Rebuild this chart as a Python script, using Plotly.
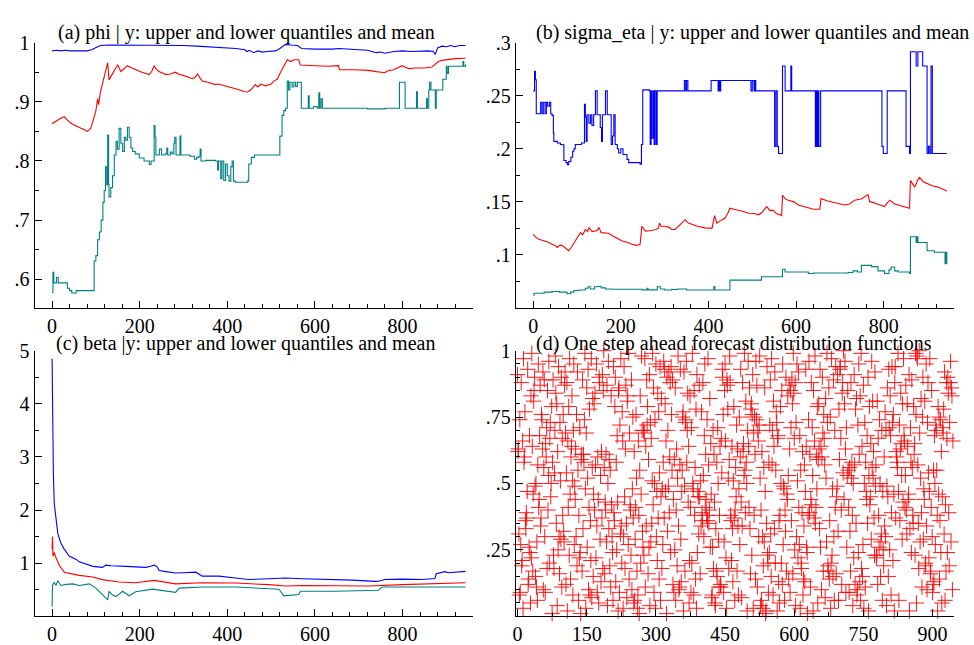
import plotly.graph_objects as go

# ---------------- data ----------------
# (a) phi | y : upper quantile, mean, lower quantile  -> (t, value)
phi_upper = [(0,.986),(10,.987),(20,.986),(30,.987),(40,.986),(50,.986),(60,.986),(70,.987),(80,.986),
             (90,.988),(100,.992),(110,.995),(130,.996),(160,.996),(200,.996),(250,.996),(300,.995),
             (330,.994),(360,.993),(400,.991),(420,.990),(440,.988),(445,.985),(450,.987),(460,.983),
             (470,.986),(480,.984),(490,.985),(500,.985),(510,.986),(520,.990),(533,.997),(545,.996),
             (560,.995),(570,.990),(600,.989),(640,.989),(655,.990),(700,.988),(720,.987),(730,.985),
             (740,.983),(750,.984),(760,.982),(780,.985),(800,.986),(820,.985),(840,.986),(860,.986),
             (870,.985),(875,.980),(880,.991),(890,.994),(900,.993),(910,.995),(920,.993),(930,.995),(944,.995)]
phi_mean = [(0,.863),(8,.866),(15,.870),(22,.873),(28,.875),(35,.869),(45,.863),(55,.859),(62,.857),(70,.854),
            (81,.850),(88,.855),(93,.866),(100,.885),(104,.905),(106,.895),(110,.915),(115,.930),(119,.943),
            (123,.955),(127,.966),(130,.937),(136,.945),(142,.955),(146,.958),(150,.962),(157,.951),(163,.955),
            (172,.961),(180,.958),(191,.954),(205,.950),(222,.946),(228,.952),(233,.961),(238,.955),(244,.951),
            (252,.948),(260,.946),(270,.947),(282,.950),(290,.946),(298,.945),(310,.942),(320,.939),(326,.941),
            (332,.947),(338,.940),(343,.935),(355,.933),(373,.929),(380,.930),(392,.927),(404,.925),(419,.922),
            (430,.919),(440,.917),(446,.9165),(452,.919),(458,.924),(464,.929),(470,.925),(476,.930),(487,.927),
            (500,.930),(506,.935),(514,.938),(521,.949),(530,.962),(537,.971),(545,.968),(552,.971),(563,.971),
            (567,.962),(600,.961),(630,.960),(654,.961),(656,.954),(690,.954),(723,.953),(740,.951),(750,.950),
            (760,.949),(765,.952),(780,.954),(799,.961),(806,.958),(814,.956),(830,.957),(850,.957),(867,.9586),
            (872,.962),(882,.968),(890,.970),(905,.972),(920,.973),(944,.9735)]
phi_lower = [(0,.578),(2,.612),(4,.594),(10,.603),(14,.594),(30,.594),(35,.585),(40,.581),(45,.577),(55,.581),
             (93,.581),(96,.631),(100,.640),(104,.667),(108,.680),(112,.700),(116,.730),(119,.750),(122,.790),
             (125,.760),(127,.844),(129,.760),(130,.739),(134,.755),(138,.775),(142,.810),(146,.833),(149,.820),
             (153,.855),(157,.830),(161,.816),(165,.840),(168,.835),(172,.857),(176,.840),(180,.822),(184,.816),
             (190,.812),(199,.805),(210,.800),(222,.794),(226,.800),(233,.860),(235,.840),(237,.810),(245,.820),
             (250,.810),(258,.812),(262,.822),(264,.810),(270,.815),(274,.812),(278,.830),(280,.840),(283,.810),
             (292,.842),(294,.810),(300,.810),(315,.808),(325,.803),(330,.806),(335,.808),(338,.820),(340,.800),
             (350,.801),(373,.800),(378,.785),(380,.800),(385,.770),(388,.800),(392,.767),(396,.795),(400,.775),
             (404,.766),(408,.790),(411,.800),(414,.766),(419,.764),(446,.766),(449,.795),(455,.806),(462,.810),
             (518,.810),(520,.842),(525,.877),(529,.885),(533,.889),(537,.935),(540,.920),(543,.933),(548,.925),
             (552,.933),(556,.926),(560,.933),(569,.889),(583,.889),(585,.910),(587,.889),(595,.889),(597,.892),
             (605,.889),(609,.915),(611,.889),(614,.905),(617,.889),(700,.889),(720,.888),(760,.889),(793,.933),
             (806,.889),(830,.889),(832,.917),(834,.889),(852,.889),(855,.905),(857,.889),(860,.920),(862,.933),
             (865,.920),(873,.920),(875,.889),(877,.920),(890,.920),(892,.938),(900,.960),(902,.948),(905,.960),
             (935,.960),(938,.968),(940,.960),(944,.963)]

# (b) sigma_eta | y
sigma_upper = [(0,.2545),(3,.273),(5,.265),(7,.233),(17,.2438),(20,.233),(23,.2438),(27,.233),(30,.2438),
               (33,.240),(37,.2438),(40,.233),(43,.2315),(46,.215),(47,.207),(55,.2054),(62,.204),(66,.2038),
               (70,.189),(75,.187),(78,.185),(81,.188),(86,.192),(90,.1977),(93,.200),(96,.204),(110,.2054),
               (115,.2054),(117,.242),(119,.230),(121,.207),(123,.232),(127,.224),(131,.232),(134,.222),
               (138,.232),(142,.2545),(146,.232),(153,.220),(156,.207),(158,.232),(165,.2545),(169,.232),
               (178,.204),(181,.212),(184,.232),(187,.204),(192,.200),(195,.196),(200,.200),(205,.1946),
               (214,.190),(218,.187),(244,.1854),(247,.204),(250,.2555),(265,.2545),(267,.204),(269,.2545),
               (271,.210),(274,.2545),(276,.204),(278,.2545),(281,.204),(283,.2545),(345,.2643),(348,.2545),
               (350,.2643),(353,.2545),(404,.2545),(406,.2643),(420,.2643),(422,.2545),(424,.2643),(426,.2545),
               (428,.2643),(495,.2643),(497,.2545),(500,.2643),(504,.2545),(506,.2643),(508,.2545),(549,.2545),
               (551,.2023),(554,.2545),(557,.2023),(560,.1955),(567,.1955),(569,.278),(573,.278),(575,.2545),
               (587,.2545),(588,.278),(590,.2545),(643,.2545),(644,.2023),(646,.2545),(648,.2023),(650,.2545),
               (652,.2023),(656,.2545),(795,.2545),(796,.2023),(799,.1955),(808,.2545),(850,.2545),(851,.2023),
               (859,.1955),(861,.2914),(874,.278),(878,.2914),(889,.278),(899,.1955),(902,.2023),(905,.1955),
               (908,.278),(911,.1955),(944,.1955)]
sigma_mean = [(0,.1193),(5,.117),(13,.1147),(20,.114),(28,.1126),(35,.112),(43,.110),(50,.109),(55,.107),
              (60,.109),(66,.109),(72,.107),(81,.104),(87,.107),(93,.1117),(100,.116),(108,.121),(113,.119),
              (119,.124),(124,.122),(127,.1255),(135,.122),(146,.123),(150,.126),(155,.121),(165,.121),
              (172,.1205),(180,.1184),(190,.116),(203,.1132),(215,.112),(225,.110),(237,.109),(244,.110),
              (248,.127),(252,.124),(256,.1224),(270,.123),(280,.124),(286,.1255),(288,.130),(292,.127),
              (301,.127),(310,.126),(316,.124),(324,.124),(335,.128),(347,.1332),(354,.130),(362,.1286),
              (375,.127),(392,.1255),(408,.125),(414,.137),(419,.130),(430,.133),(438,.1347),(445,.140),
              (449,.144),(458,.143),(468,.1424),(480,.141),(491,.1393),(505,.139),(514,.1378),(522,.140),
              (533,.1455),(540,.142),(548,.142),(555,.139),(563,.1378),(567,.137),(569,.1562),(575,.153),
              (582,.1516),(595,.150),(605,.147),(615,.146),(628,.144),(640,.143),(654,.143),(657,.1531),
              (670,.151),(681,.150),(695,.149),(711,.147),(722,.148),(734,.1516),(750,.153),(764,.1568),
              (768,.150),(772,.150),(785,.148),(802,.1455),(808,.149),(814,.1516),(825,.148),(833,.147),
              (845,.146),(859,.144),(861,.170),(867,.166),(871,.1639),(878,.171),(882,.1731),(890,.169),
              (901,.167),(912,.165),(924,.1639),(935,.162),(944,.1602)]
sigma_lower = [(0,.062),(2,.064),(25,.065),(43,.0656),(60,.065),(77,.0634),(85,.065),(93,.0665),(105,.067),
               (119,.0687),(125,.070),(130,.068),(140,.070),(150,.0705),(155,.069),(165,.068),(180,.0677),
               (248,.0671),(260,.0685),(262,.0671),(283,.070),(290,.068),(300,.067),(316,.0675),(330,.068),
               (350,.067),(408,.067),(412,.070),(415,.067),(444,.067),(449,.0763),(521,.0794),(569,.0865),
               (575,.084),(628,.0825),(640,.083),(719,.0835),(730,.085),(740,.084),(749,.0902),(772,.089),
               (787,.085),(802,.0825),(812,.086),(817,.0886),(825,.085),(833,.084),(859,.0825),(861,.1172),
               (874,.1117),(876,.1172),(878,.1117),(899,.104),(916,.1025),(940,.0917),(942,.1025),(944,.0917)]

# (c) beta | y
beta_upper = [(0,4.85),(1,3.65),(3,2.67),(5,2.12),(9,1.81),(13,1.56),(20,1.38),(28,1.26),(39,1.135),(55,1.07),
              (62,1.025),(77,0.98),(93,0.94),(115,0.92),(123,0.963),(135,0.95),(153,0.95),(170,0.94),(191,0.93),
              (214,0.92),(225,0.94),(233,0.963),(240,0.93),(244,0.86),(260,0.84),(282,0.816),(300,0.82),
              (328,0.83),(343,0.755),(381,0.755),(419,0.72),(449,0.693),(495,0.705),(533,0.72),(571,0.705),
              (647,0.69),(685,0.68),(738,0.657),(745,0.66),(760,0.693),(799,0.70),(844,0.693),(874,0.71),
              (877,0.80),(897,0.84),(905,0.82),(920,0.83),(944,0.845)]
beta_mean = [(0,1.26),(1,1.5),(2,1.13),(5,1.2),(9,1.1),(17,0.95),(28,0.83),(47,0.80),(62,0.77),(93,0.74),
             (115,0.69),(153,0.645),(191,0.63),(233,0.675),(282,0.61),(343,0.63),(419,0.625),(495,0.595),
             (533,0.57),(571,0.58),(647,0.58),(723,0.57),(799,0.595),(874,0.61),(944,0.63)]
beta_lower = [(0,0.18),(1,0.58),(5,0.64),(9,0.58),(13,0.67),(20,0.58),(32,0.60),(47,0.61),(62,0.58),(85,0.61),
              (100,0.53),(115,0.41),(127,0.31),(130,0.47),(138,0.40),(146,0.37),(161,0.47),(176,0.385),
              (191,0.46),(229,0.51),(267,0.47),(282,0.45),(290,0.53),(343,0.55),(419,0.55),(495,0.53),
              (518,0.51),(529,0.385),(548,0.40),(563,0.41),(567,0.47),(647,0.47),(745,0.49),(753,0.55),(944,0.55)]

# (d) one step ahead forecast distribution function values (percent), t = 0..944
pit_pct = [
    91,62,63,31,8,74,9,27,88,19,21,66,3,97,58,60,77,36,33,39,37,
    47,93,12,14,26,68,24,5,83,22,99,64,17,46,81,85,90,49,15,50,11,
    28,6,57,95,41,44,68,87,34,37,76,74,63,92,10,56,89,30,9,65,60,
    71,18,85,40,53,96,20,67,73,45,50,79,1,58,89,23,18,54,70,98,84,
    35,80,4,62,25,94,30,16,73,51,29,90,11,67,38,76,32,28,87,92,69,
    12,54,88,2,66,41,79,23,97,46,14,60,64,83,51,8,70,95,27,49,44,
    63,30,76,19,92,55,6,38,22,71,24,1,59,61,17,89,33,61,58,74,99,
    48,3,69,86,26,52,93,10,41,78,8,36,21,97,7,56,82,15,46,80,40,
    84,57,22,95,34,9,60,44,5,90,88,29,53,13,62,37,91,18,85,100,56,
    16,43,40,61,28,87,4,50,96,33,59,19,55,11,83,42,30,24,6,94,39,
    36,79,90,13,58,25,68,43,2,85,86,9,72,31,97,34,20,77,66,3,30,
    94,45,18,63,87,35,7,81,83,27,99,14,69,42,40,23,89,10,48,75,37,
    5,62,6,29,41,76,52,17,3,8,66,38,1,55,83,20,46,98,70,32,26,
    70,23,69,97,11,64,34,89,72,79,16,59,26,91,4,73,28,67,35,51,99,
    42,86,9,50,74,3,95,30,47,21,84,37,77,14,54,94,6,45,82,18,48,
    27,58,96,37,93,80,47,66,1,90,32,70,49,92,39,60,88,24,94,76,55,
    89,12,44,9,59,25,86,6,40,63,19,52,98,34,10,11,57,93,29,13,47,
    55,75,77,2,92,49,17,73,74,96,58,70,84,43,64,5,21,83,41,9,71,
    20,99,50,48,8,85,38,56,14,78,3,91,24,47,45,31,87,45,16,51,34,
    77,39,36,88,53,30,68,95,41,61,44,38,74,36,97,57,35,40,82,26,65,
    46,7,8,26,70,18,61,43,5,4,33,17,58,15,71,50,29,11,38,64,12,
    11,67,54,93,90,76,9,28,85,95,66,22,3,89,87,78,52,18,59,98,88,
    38,36,21,64,33,13,51,79,37,6,40,56,45,72,17,63,34,8,48,75,27,
    60,93,43,7,34,88,62,65,53,99,55,39,81,58,50,2,70,96,64,41,86,
    33,16,78,80,23,76,91,3,69,38,75,61,14,96,74,87,11,70,66,30,72,
    98,52,4,40,6,62,30,3,19,56,28,86,47,1,2,35,94,23,20,9,58,
    24,72,89,31,15,97,57,70,8,81,64,33,92,20,55,77,73,2,67,68,13,
    36,5,38,79,50,20,85,12,95,27,49,48,6,40,32,90,17,46,44,83,53,
    14,87,63,9,85,71,36,89,80,16,99,84,67,25,88,4,73,30,95,51,22,
    92,41,27,68,3,55,20,18,39,62,8,14,34,57,13,47,93,64,26,24,1,
    38,74,96,39,61,11,44,88,42,71,53,2,85,37,66,98,35,41,60,48,79,
    5,59,80,63,33,93,26,64,10,60,90,69,17,76,67,57,7,82,52,28,99,
    73,19,17,86,14,36,75,3,20,97,23,48,15,89,30,6,70,41,94,16,45,
    49,91,32,6,78,59,93,94,67,40,12,84,88,54,100,44,80,96,63,9,71,
    26,53,85,55,41,9,56,32,17,88,52,58,38,4,50,22,91,57,12,78,35,
    82,8,10,72,24,95,61,13,83,6,99,18,64,15,27,87,3,50,73,11,58,
    47,44,68,35,90,2,53,79,42,45,65,29,96,56,81,52,62,37,23,92,49,
    57,22,23,81,12,67,38,26,74,50,15,28,31,70,6,47,25,19,60,34,77,
    30,70,4,49,86,45,15,93,71,25,83,68,8,39,94,73,21,76,46,2,88,
    94,37,62,60,58,56,99,47,6,72,36,63,84,65,53,29,80,43,97,68,66,
    41,53,87,40,31,80,64,44,46,91,2,33,71,58,24,89,56,38,35,79,61,
    65,23,99,76,5,98,97,57,35,18,100,69,28,52,82,39,11,75,90,29,48,
    44,81,19,20,95,34,10,73,88,54,22,47,97,16,17,41,85,30,9,12,55,
    13,68,50,27,72,70,55,38,2,79,46,75,14,36,74,24,62,5,45,71,69,
    78,31,92,6,42,17,88,67,24,90,84,39,19,73,88,96,28,86,83,10,66,
]

# tick values and labels
t_ticks = [0, 200, 400, 600, 800]
t_ticktext = ["0", "200", "400", "600", "800"]
t_minor = [v for v in range(40, 961, 40) if v % 200]
d_ticks = [0, 150, 300, 450, 600, 750, 900]
d_ticktext = ["0", "150", "300", "450", "600", "750", "900"]
d_minor = [75, 225, 375, 525, 675, 825]
phi_ticks = [0.6, 0.7, 0.8, 0.9, 1.0]
phi_ticktext = [".6", ".7", ".8", ".9", "1"]
phi_minor = [0.65, 0.75, 0.85, 0.95]
sig_ticks = [0.1, 0.15, 0.2, 0.25, 0.3]
sig_ticktext = [".1", ".15", ".2", ".25", ".3"]
sig_minor = [0.075, 0.125, 0.175, 0.225, 0.275]
beta_ticks = [1, 2, 3, 4, 5]
beta_ticktext = ["1", "2", "3", "4", "5"]
beta_minor = [0.5, 1.5, 2.5, 3.5, 4.5]
pit_ticks = [0.25, 0.5, 0.75, 1.0]
pit_ticktext = [".25", ".5", ".75", "1"]
pit_minor = [0.05, 0.1, 0.15, 0.2, 0.3, 0.35, 0.4, 0.45, 0.55, 0.6, 0.65, 0.7, 0.8, 0.85, 0.9, 0.95]

titles = ["(a) phi | y: upper and lower quantiles and mean",
          "(b) sigma_eta | y: upper and lower quantiles and mean",
          "(c) beta |y: upper and lower quantiles and mean",
          "(d) One step ahead forecast distribution functions"]

BLUE, RED, TEAL = "#0000ff", "#ff0000", "#008080"
FONT = "Liberation Serif"

fig = go.Figure()


def add_line(pairs, color, xa, ya, shape="linear"):
    xs = [p[0] for p in pairs]
    ys = [p[1] for p in pairs]
    fig.add_trace(go.Scatter(x=xs, y=ys, mode="lines", xaxis=xa, yaxis=ya,
                             line=dict(color=color, width=1.1, shape=shape),
                             showlegend=False, hoverinfo="skip"))


add_line(phi_upper, BLUE, "x", "y")
add_line(phi_mean, RED, "x", "y")
add_line(phi_lower, TEAL, "x", "y", "hv")
add_line(sigma_upper, BLUE, "x2", "y2", "hv")
add_line(sigma_mean, RED, "x2", "y2")
add_line(sigma_lower, TEAL, "x2", "y2", "hv")
add_line(beta_upper, BLUE, "x3", "y3")
add_line(beta_mean, RED, "x3", "y3")
add_line(beta_lower, TEAL, "x3", "y3")

fig.add_trace(go.Scatter(x=list(range(len(pit_pct))), y=[v / 100 for v in pit_pct],
                         mode="markers", xaxis="x4", yaxis="y4", cliponaxis=False,
                         marker=dict(symbol="cross-thin", size=11, color="rgba(255,0,0,0.9)",
                                     line=dict(color="rgba(255,0,0,0.9)", width=1)),
                         showlegend=False, hoverinfo="skip"))


def axis(domain, rng, vals, text, minor, anchor):
    return dict(domain=domain, range=rng, anchor=anchor, showline=True, linecolor="black",
                linewidth=1, ticks="inside", ticklen=7, tickwidth=1, tickcolor="black",
                tickmode="array", tickvals=vals, ticktext=text,
                minor=dict(tickmode="array", tickvals=minor, ticks="inside", ticklen=4,
                           tickwidth=1, tickcolor="black", showgrid=False),
                showgrid=False, zeroline=False,
                tickfont=dict(family=FONT, size=20, color="black"))


XL, XR = [0.0325, 0.4836], [0.528, 0.9792]
YT, YB = [0.53, 0.95], [0.0423, 0.4625]

fig.update_layout(
    width=974, height=645, margin=dict(l=0, r=0, t=0, b=0),
    paper_bgcolor="white", plot_bgcolor="white", showlegend=False,
    xaxis=axis(XL, [-40, 960], t_ticks, t_ticktext, t_minor, "y"),
    yaxis=axis(YT, [0.5515, 1.0], phi_ticks, phi_ticktext, phi_minor, "x"),
    xaxis2=axis(XR, [-40, 960], t_ticks, t_ticktext, t_minor, "y2"),
    yaxis2=axis(YT, [0.05, 0.3], sig_ticks, sig_ticktext, sig_minor, "x2"),
    xaxis3=axis(XL, [-40, 960], t_ticks, t_ticktext, t_minor, "y3"),
    yaxis3=axis(YB, [0, 5], beta_ticks, beta_ticktext, beta_minor, "x3"),
    xaxis4=axis(XR, [-4, 946], d_ticks, d_ticktext, d_minor, "y4"),
    yaxis4=axis(YB, [0, 1], pit_ticks, pit_ticktext, pit_minor, "x4"),
)

title_pos = [(244, 22), (752, 22), (243, 339), (733, 339)]
for txt, (px, py) in zip(titles, title_pos):
    fig.add_annotation(text=txt, xref="paper", yref="paper", x=px / 974, y=1 - py / 645,
                       xanchor="center", yanchor="middle", showarrow=False,
                       font=dict(family=FONT, size=20, color="black"))

fig.write_html("out.html")
